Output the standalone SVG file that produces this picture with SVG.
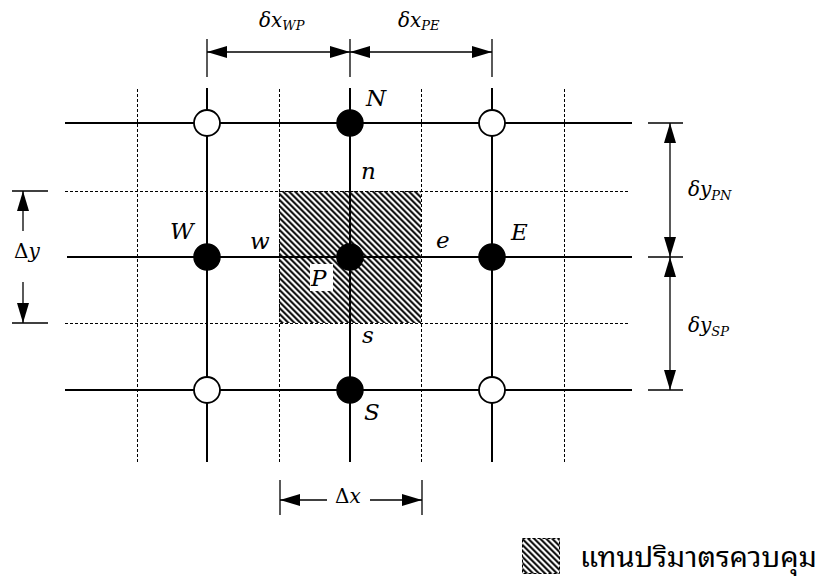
<svg xmlns="http://www.w3.org/2000/svg" width="828" height="579" viewBox="0 0 828 579">
<style>
.solid{stroke:#000;stroke-width:2;fill:none}
.dash{stroke:#000;stroke-width:1;stroke-dasharray:3 2;fill:none}
.dim{stroke:#000;stroke-width:1.3;fill:none}
.tick{stroke:#000;stroke-width:1.3}
.lbl{font-family:'DejaVu Serif',serif;font-style:italic;font-size:23px;fill:#000}
.dl{font-family:'DejaVu Serif',serif;font-style:italic;font-size:20px;fill:#000}
.sub{font-size:13px}
.up{font-style:normal}
.full{fill:#000;stroke:#000;stroke-width:1.5}
.open{fill:#fff;stroke:#000;stroke-width:1.8}
.thai{font-family:'Noto Sans Thai Looped','Noto Serif Thai','Noto Sans Thai','Noto Sans','DejaVu Sans',sans-serif;font-size:28px;fill:#000}
</style>
<defs>
<pattern id="hatch" patternUnits="userSpaceOnUse" width="4.2426" height="4.2426" patternTransform="rotate(-45)">
<rect width="4.2426" height="4.2426" fill="#fff"/>
<line x1="1.1" y1="0" x2="1.1" y2="4.2426" stroke="#000" stroke-width="2"/>
</pattern>
<marker id="ah" markerUnits="userSpaceOnUse" markerWidth="20" markerHeight="12" refX="20" refY="6" orient="auto-start-reverse">
<path d="M0,0 L20,6 L0,12 z" fill="#000"/>
</marker>
</defs>
<rect width="828" height="579" fill="#fff"/>

<g id="control-volume">
<rect x="279" y="191" width="142" height="132" fill="url(#hatch)"/>
</g>

<g id="connectors">
<line class="dash" x1="65" y1="191.5" x2="630" y2="191.5"/>
<line class="dash" x1="65" y1="323.5" x2="630" y2="323.5"/>
<line class="dash" x1="137.5" y1="89" x2="137.5" y2="463"/>
<line class="dash" x1="279.5" y1="89" x2="279.5" y2="463"/>
<line class="dash" x1="421.5" y1="89" x2="421.5" y2="463"/>
<line class="dash" x1="564.5" y1="89" x2="564.5" y2="463"/>
<line class="solid" x1="65" y1="123" x2="632" y2="123"/>
<line class="solid" x1="67" y1="257" x2="632" y2="257"/>
<line class="solid" x1="65" y1="390" x2="632" y2="390"/>
<line class="solid" x1="207" y1="88" x2="207" y2="462"/>
<line class="solid" x1="350" y1="88" x2="350" y2="462"/>
<line class="solid" x1="492" y1="88" x2="492" y2="462"/>
</g>

<g id="dimensions">
<line class="tick" x1="207" y1="39" x2="207" y2="77"/>
<line class="tick" x1="350" y1="39" x2="350" y2="77"/>
<line class="tick" x1="492" y1="39" x2="492" y2="77"/>
<line class="dim" x1="207" y1="52" x2="350" y2="52" marker-start="url(#ah)" marker-end="url(#ah)"/>
<line class="dim" x1="350" y1="52" x2="492" y2="52" marker-start="url(#ah)" marker-end="url(#ah)"/>
<text class="dl" x="259" y="27">δx<tspan class="sub" dy="3">WP</tspan></text>
<text class="dl" x="398" y="27">δx<tspan class="sub" dy="3">PE</tspan></text>
<line class="tick" x1="12" y1="191" x2="48" y2="191"/>
<line class="tick" x1="12" y1="323" x2="48" y2="323"/>
<line class="dim" x1="23" y1="231" x2="23" y2="191" marker-end="url(#ah)"/>
<line class="dim" x1="23" y1="282" x2="23" y2="323" marker-end="url(#ah)"/>
<text class="dl" x="14" y="258"><tspan class="up">Δ</tspan>y</text>
<line class="tick" x1="648" y1="123" x2="683" y2="123"/>
<line class="tick" x1="648" y1="257" x2="683" y2="257"/>
<line class="tick" x1="648" y1="390" x2="683" y2="390"/>
<line class="dim" x1="670" y1="123" x2="670" y2="257" marker-start="url(#ah)" marker-end="url(#ah)" stroke="#555"/>
<line class="dim" x1="670" y1="257" x2="670" y2="390" marker-start="url(#ah)" marker-end="url(#ah)"/>
<text class="dl" x="688" y="196">δy<tspan class="sub" dy="4">PN</tspan></text>
<text class="dl" x="688" y="332">δy<tspan class="sub" dy="4">SP</tspan></text>
<line class="tick" x1="280" y1="480" x2="280" y2="515"/>
<line class="tick" x1="422" y1="480" x2="422" y2="515"/>
<line class="dim" x1="327" y1="500" x2="280" y2="500" marker-end="url(#ah)"/>
<line class="dim" x1="370" y1="500" x2="422" y2="500" marker-end="url(#ah)"/>
<text class="dl" x="335" y="503"><tspan class="up">Δ</tspan>x</text>
</g>

<g id="node-NW"><circle class="open" cx="207" cy="123" r="13"/></g>
<g id="node-NE"><circle class="open" cx="492" cy="123" r="13"/></g>
<g id="node-SW"><circle class="open" cx="207" cy="390" r="13"/></g>
<g id="node-SE"><circle class="open" cx="492" cy="390" r="13"/></g>
<g id="node-N"><circle class="full" cx="350" cy="123" r="13"/><text class="lbl" x="366" y="106">N</text></g>
<g id="node-W"><circle class="full" cx="207" cy="257" r="13"/><text class="lbl" x="170" y="239">W</text></g>
<g id="node-P">
<circle class="full" cx="350" cy="257" r="13"/>
<rect x="310" y="264" width="23" height="27" fill="#fff"/>
<text class="lbl" x="311" y="286">P</text>
</g>
<g id="node-E"><circle class="full" cx="492" cy="257" r="13"/><text class="lbl" x="511" y="240">E</text></g>
<g id="node-S"><circle class="full" cx="350" cy="390" r="13"/><text class="lbl" x="364" y="420">S</text></g>

<g id="faces">
<text class="lbl" x="361" y="179">n</text>
<text class="lbl" x="250" y="249">w</text>
<text class="lbl" x="436" y="248">e</text>
<text class="lbl" x="362" y="343">s</text>
</g>

<g id="legend">
<rect x="522.5" y="538.5" width="37" height="35" fill="url(#hatch)" stroke="#000" stroke-width="1" stroke-dasharray="3 2"/>
<text class="thai" x="580" y="567" textLength="237" lengthAdjust="spacingAndGlyphs">แทนปริมาตรควบคุม</text>
</g>
</svg>
